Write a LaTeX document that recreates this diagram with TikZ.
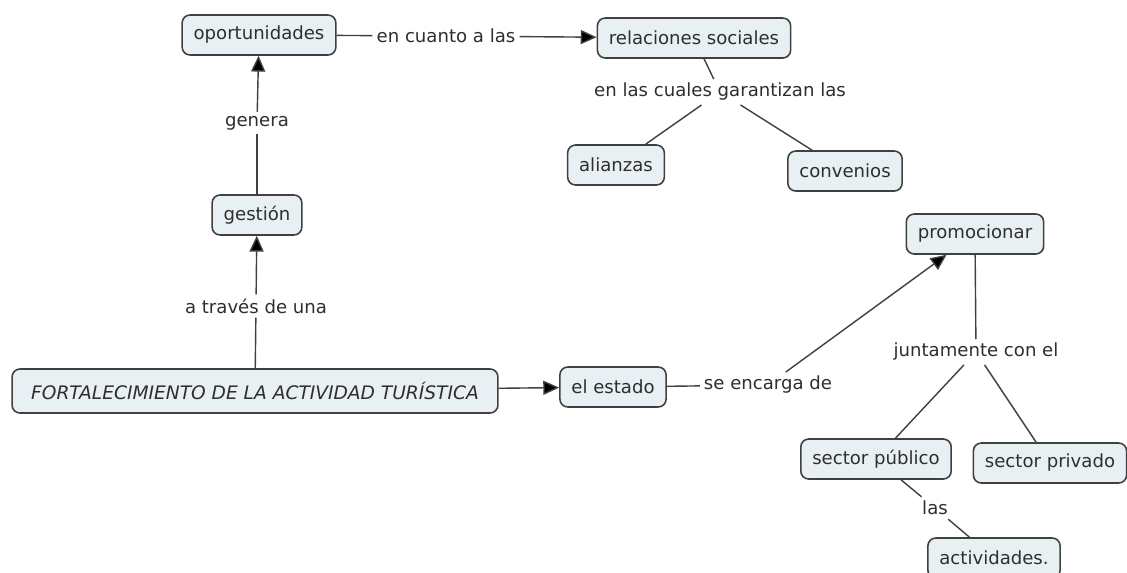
\documentclass[tikz,border=0pt]{standalone}
\usepackage{fontspec}
\setmainfont{DejaVu Sans}
\usetikzlibrary{arrows.meta}
\definecolor{conceptfill}{HTML}{E9F0F4}
\definecolor{conceptline}{HTML}{404040}
\definecolor{concepttext}{HTML}{2E2E2E}

\begin{document}
\begin{tikzpicture}[x=0.02cm, y=-0.02cm,
    every node/.style={font=\fontsize{10.3}{12}\selectfont, text=concepttext},
    concept/.style={draw=conceptline, line width=0.9pt, fill=conceptfill,
        rounded corners=4.5pt, minimum height=0.8cm, inner xsep=0.23cm},
    linkword/.style={fill=white, inner sep=2.2pt},
    link/.style={draw=conceptline, line width=0.8pt},
    arrowlink/.style={link, -{Triangle[length=9pt, width=8pt, fill=black]}}]
    \useasboundingbox[fill=white] (0,0) rectangle (1127,572);

    % concepts
    \node[concept] (oport) at (259,35) {oportunidades};
    \node[concept] (relsoc) at (694,38) {relaciones sociales};
    \node[concept] (alianzas) at (616,165) {alianzas};
    \node[concept] (convenios) at (845,171) {convenios};
    \node[concept] (gestion) at (257,215) {gestión};
    \node[concept, minimum height=0.88cm, minimum width=9.72cm,
        font=\fontsize{10.6}{12}\selectfont\itshape]
        (fort) at (255,391) {FORTALECIMIENTO DE LA ACTIVIDAD TURÍSTICA};
    \node[concept] (estado) at (613,387) {el estado};
    \node[concept] (promo) at (975,234) {promocionar};
    \node[concept] (publico) at (876,459) {sector público};
    \node[concept] (privado) at (1050,463) {sector privado};
    \node[concept] (activ) at (994,558) {actividades.};

    % linking words
    \node[linkword] (encuanto) at (446,36) {en cuanto a las};
    \node[linkword] (enlas) at (720,92) {en las cuales garantizan las};
    \node[linkword] (genera) at (257,123) {genera};
    \node[linkword] (atraves) at (256,306) {a través de una};
    \node[linkword] (encarga) at (768,385) {se encarga de};
    \node[linkword] (junto) at (976,352) {juntamente con el};
    \node[linkword] (las) at (935,508) {las};

    % connectors
    \draw[link] (oport) -- (encuanto);
    \draw[arrowlink] (encuanto) -- (relsoc);
    \draw[link] (relsoc) -- (enlas);
    \draw[link] (enlas) -- (alianzas);
    \draw[link] (enlas) -- (convenios);
    \draw[link] (fort) -- (atraves);
    \draw[arrowlink] (atraves) -- (gestion);
    \draw[link] (gestion) -- (genera);
    \draw[arrowlink] (genera) -- (oport);
    \draw[arrowlink] (fort) -- (estado);
    \draw[link] (estado) -- (encarga);
    \draw[arrowlink] (encarga) -- (promo);
    \draw[link] (promo) -- (junto);
    \draw[link] (junto) -- (publico);
    \draw[link] (junto) -- (privado);
    \draw[link] (publico) -- (las);
    \draw[link] (las) -- (activ);
\end{tikzpicture}
\end{document}
